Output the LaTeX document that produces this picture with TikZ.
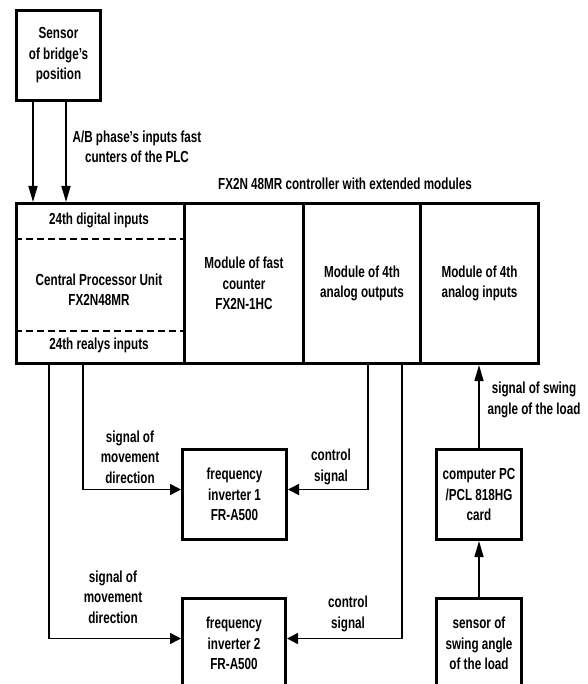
\documentclass[tikz,border=0pt]{standalone}
\usepackage{fontspec}
\setmainfont{Liberation Sans}[FakeStretch=0.73]
\usetikzlibrary{arrows.meta}
\tikzset{
  box/.style={draw, line width=3pt, inner sep=0pt, align=center, anchor=north west},
  lbl/.style={align=center, inner sep=0pt},
  conn/.style={line width=1.6pt},
  vtip/.style={conn, -{Triangle[length=16pt,width=9pt]}},
  htip/.style={conn, -{Triangle[length=11pt,width=11pt]}},
  dashline/.style={line width=2.5pt, dash pattern=on 7pt off 4pt},
}
\begin{document}
\begin{tikzpicture}[x=1pt, y=-1pt, font=\fontsize{16}{20.5}\selectfont\bfseries]
\fill[white] (0,0) rectangle (587,684);
\useasboundingbox (0,0) rectangle (587,684);

% sensor of bridge
\node[box, minimum width=84pt, minimum height=90pt] (sensor) at (15,9) {Sensor\\of bridge's\\position};

% controller
\node[box, minimum width=168pt, minimum height=160pt] (cpu) at (15,202) {};
\node[box, minimum width=119pt, minimum height=160pt] (fc) at (183,202) {Module of fast\\counter\\FX2N-1HC};
\node[box, minimum width=117pt, minimum height=160pt] (ao) at (302,202) {Module of 4th\\analog outputs};
\node[box, minimum width=118pt, minimum height=160pt] (ai) at (419,202) {Module of 4th\\analog inputs};

\node[lbl] (cpuin) at (99,220) {24th digital inputs};
\node[lbl] (cpumid) at (99,290) {Central Processor Unit\\FX2N48MR};
\node[lbl] (cpuout) at (99,345) {24th realys inputs};
\draw[dashline] ([yshift=-37pt]cpu.north west) -- ([yshift=-37pt]cpu.north east);
\draw[dashline] ([yshift=34pt]cpu.south west) -- ([yshift=34pt]cpu.south east);

\node[lbl] (title) at (345,184) {FX2N 48MR controller with extended modules};
\node[lbl] (ablbl) at (137,147) {A/B phase's inputs fast\\cunters of the PLC};

% inverters and PC
\node[box, minimum width=104pt, minimum height=90pt] (inv1) at (181,448) {frequency\\inverter 1\\FR-A500};
\node[box, minimum width=103pt, minimum height=90pt] (inv2) at (181,597) {frequency\\inverter 2\\FR-A500};
\node[box, minimum width=85pt, minimum height=90pt] (pc) at (435,448) {computer PC\\/PCL 818HG\\card};
\node[box, minimum width=85pt, minimum height=90pt] (sw) at (435,597) {sensor of\\swing angle\\of the load};

% labels
\node[lbl] (l1) at (130,457) {signal of\\movement\\direction};
\node[lbl] (l2) at (331,467) {control\\signal};
\node[lbl] (l3) at (113,597) {signal of\\movement\\direction};
\node[lbl] (l4) at (348,614) {control\\signal};
\node[lbl] (l5) at (534,400) {signal of swing\\angle of the load};

% connectors
\coordinate (s1) at ([xshift=18pt]sensor.south west);
\coordinate (s2) at ([xshift=51pt]sensor.south west);
\draw[vtip] (s1) -- (s1 |- cpu.north);
\draw[vtip] (s2) -- (s2 |- cpu.north);

\coordinate (c1) at ([xshift=34pt]cpu.south west);
\coordinate (c2) at ([xshift=68pt]cpu.south west);
\draw[htip] (c2) |- ([yshift=5pt]inv1.west);
\draw[htip] (c1) |- ([yshift=5pt]inv2.west);

\coordinate (a1) at ([xshift=66pt]ao.south west);
\coordinate (a2) at ([xshift=100pt]ao.south west);
\draw[htip] (a1) |- ([yshift=5pt]inv1.east);
\draw[htip] (a2) |- ([yshift=5pt]inv2.east);

\draw[vtip] (pc.north) -- (pc.north |- ai.south);
\draw[vtip] (sw.north) -- (pc.south);
\end{tikzpicture}
\end{document}
